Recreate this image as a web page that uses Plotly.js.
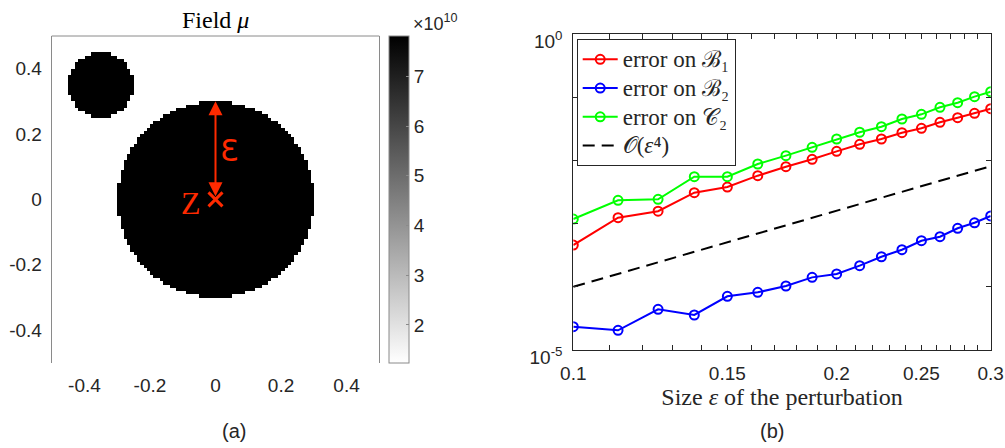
<!DOCTYPE html>
<html>
<head>
<meta charset="utf-8">
<script src="https://cdn.plot.ly/plotly-3.0.1.min.js"></script>
<style>
  html, body { margin: 0; padding: 0; background: #ffffff; }
  #chart { width: 1005px; height: 448px; }
</style>
</head>
<body>
<div id="chart"></div>
<script>
// ---------- Panel (a): field mu ----------
const inclusionX = [0, -0.35];
const inclusionY = [0, 0.35];
const inclusionR = [0.3, 0.1];
const muInside = 7.82e10;
const muBackground = 1.24e10;
const gridN = 100;              // image resolution (pixels per side)
const domainMin = -0.5, domainMax = 0.5;
const fieldTicks = [-0.4, -0.2, 0, 0.2, 0.4];
const fieldTickText = ['-0.4', '-0.2', '0', '0.2', '0.4'];
const colorbarTicks = [2e10, 3e10, 4e10, 5e10, 6e10, 7e10];
const colorbarTickText = ['2', '3', '4', '5', '6', '7'];
const perturbCenter = [0, 0];   // point z
const perturbSize = 0.3;        // epsilon

// ---------- Panel (b): errors ----------
const epsValues = [0.1, 0.1125, 0.125, 0.1375, 0.15, 0.1625, 0.175, 0.1875, 0.2,
                   0.2125, 0.225, 0.2375, 0.25, 0.2625, 0.275, 0.2875, 0.3];
const errB1 = [4.58e-4, 1.24e-3, 1.57e-3, 3.08e-3, 3.79e-3, 5.73e-3, 7.94e-3, 1.04e-2, 1.39e-2,
               1.80e-2, 2.18e-2, 2.74e-2, 3.22e-2, 4.01e-2, 4.74e-2, 5.56e-2, 6.58e-2];
const errB2 = [2.34e-5, 2.05e-5, 4.41e-5, 3.58e-5, 7.08e-5, 8.18e-5, 1.03e-4, 1.41e-4, 1.60e-4,
               2.16e-4, 2.99e-4, 3.86e-4, 5.36e-4, 6.21e-4, 8.43e-4, 1.03e-3, 1.32e-3];
const errC2 = [1.18e-3, 2.34e-3, 2.42e-3, 5.52e-3, 5.52e-3, 8.77e-3, 1.19e-2, 1.61e-2, 2.18e-2,
               2.79e-2, 3.41e-2, 4.52e-2, 5.36e-2, 6.92e-2, 8.18e-2, 1.02e-1, 1.22e-1];
const refEps = [0.1, 0.3];
const refOrder4 = [1e-4, 8.1e-3];
const seriesNames = ['error on ℬ₁', 'error on ℬ₂', 'error on 𝒞₂', '𝒪(<i>ε</i>⁴)'];
const xTickVals = [0.1, 0.11, 0.12, 0.13, 0.14, 0.15, 0.16, 0.17, 0.18, 0.19, 0.2,
                   0.21, 0.22, 0.23, 0.24, 0.25, 0.26, 0.27, 0.28, 0.29, 0.3];
const xTickText = ['0.1', '', '', '', '', '0.15', '', '', '', '', '0.2',
                   '', '', '', '', '0.25', '', '', '', '', '0.3'];
const yTickVals = [1e-5, 1e-4, 1e-3, 1e-2, 1e-1, 1];
const yTickText = ['10<sup>-5</sup>', '', '', '', '', '10<sup>0</sup>'];

// ---------- build image table ----------
const step = (domainMax - domainMin) / gridN;
const gx = [], gy = [];
for (let i = 0; i < gridN; i++) { gx.push(domainMin + (i + 0.5) * step); gy.push(domainMin + (i + 0.5) * step); }
const zField = gy.map(y => gx.map(x => {
  for (let k = 0; k < inclusionX.length; k++) {
    const dx = x - inclusionX[k], dy = y - inclusionY[k];
    if (dx * dx + dy * dy <= inclusionR[k] * inclusionR[k]) return muInside;
  }
  return muBackground;
}));

const W = 1005, H = 448;
const px = v => v / W;
const py = v => 1 - v / H;
const SANS = 'Liberation Sans, Arial, sans-serif';
const SERIF = 'Liberation Serif, Times New Roman, serif';
const TXT = '#262626';
const RED = '#ff2a00';
const big = s => '<span style="font-size:23px">' + s + '</span>';

const traces = [
  {
    type: 'heatmap', x: gx, y: gy, z: zField, xaxis: 'x', yaxis: 'y',
    zmin: muBackground, zmax: muInside,
    colorscale: [[0, '#ffffff'], [1, '#000000']],
    hoverinfo: 'skip', showlegend: false,
    colorbar: {
      x: px(389.3), xanchor: 'left', xpad: 0, ypad: 0,
      y: py(362.7), yanchor: 'bottom', len: (362.7 - 36) / H, lenmode: 'fraction',
      thickness: 20, thicknessmode: 'pixels',
      outlinewidth: 1, outlinecolor: '#8a8a8a', borderwidth: 0,
      tickvals: colorbarTicks, ticktext: colorbarTickText,
      ticks: 'inside', ticklen: 3, tickcolor: '#8a8a8a',
      tickfont: { family: SANS, size: 19, color: TXT }
    }
  },
  {
    type: 'scatter', mode: 'markers', x: [perturbCenter[0]], y: [perturbCenter[1]],
    xaxis: 'x', yaxis: 'y', showlegend: false, hoverinfo: 'skip',
    marker: { symbol: 'x-thin-open', size: 14, color: RED, line: { color: RED, width: 3 } }
  },
  {
    type: 'scatter', mode: 'lines+markers', x: epsValues, y: errB1, xaxis: 'x2', yaxis: 'y2',
    name: big(seriesNames[0]),
    line: { color: '#ff0000', width: 2 },
    marker: { symbol: 'circle-open', size: 9, color: '#ff0000', line: { width: 2 } }
  },
  {
    type: 'scatter', mode: 'lines+markers', x: epsValues, y: errB2, xaxis: 'x2', yaxis: 'y2',
    name: big(seriesNames[1]),
    line: { color: '#0000ff', width: 2 },
    marker: { symbol: 'circle-open', size: 9, color: '#0000ff', line: { width: 2 } }
  },
  {
    type: 'scatter', mode: 'lines+markers', x: epsValues, y: errC2, xaxis: 'x2', yaxis: 'y2',
    name: big(seriesNames[2]),
    line: { color: '#00ff00', width: 2 },
    marker: { symbol: 'circle-open', size: 9, color: '#00ff00', line: { width: 2 } }
  },
  {
    type: 'scatter', mode: 'lines', x: refEps, y: refOrder4, xaxis: 'x2', yaxis: 'y2',
    name: big(seriesNames[3]),
    line: { color: '#000000', width: 2, dash: '12px,7px' }
  }
];

const layout = {
  width: W, height: H,
  margin: { l: 0, r: 0, t: 0, b: 0 },
  paper_bgcolor: '#ffffff', plot_bgcolor: '#ffffff',
  showlegend: true,
  xaxis: {
    domain: [px(51.7), px(379.3)], anchor: 'y',
    range: [domainMin, domainMax], showgrid: false, zeroline: false,
    showline: false, ticks: '', tickvals: fieldTicks, ticktext: fieldTickText,
    tickfont: { family: SANS, size: 19, color: TXT }, ticklabelstandoff: 9
  },
  yaxis: {
    domain: [py(362.7), py(36)], anchor: 'x',
    range: [domainMin, domainMax], showgrid: false, zeroline: false,
    showline: true, mirror: true, linecolor: '#8a8a8a', linewidth: 1,
    ticks: '', tickvals: fieldTicks, ticktext: fieldTickText,
    tickfont: { family: SANS, size: 19, color: TXT }, ticklabelstandoff: 5
  },
  xaxis2: {
    domain: [px(573.3), px(990.7)], anchor: 'y2', type: 'log',
    range: [Math.log10(0.1), Math.log10(0.3)],
    showgrid: false, zeroline: false,
    showline: true, mirror: 'ticks', linecolor: TXT, linewidth: 1,
    ticks: 'inside', ticklen: 5, tickcolor: TXT,
    tickvals: xTickVals, ticktext: xTickText,
    tickfont: { family: SANS, size: 19, color: TXT }, ticklabelstandoff: 6,
    title: { text: 'Size <i>ε</i> of the perturbation', font: { family: SERIF, size: 24, color: TXT }, standoff: 0 }
  },
  yaxis2: {
    domain: [py(350), py(34)], anchor: 'x2', type: 'log',
    range: [-5, 0],
    showgrid: false, zeroline: false,
    showline: true, mirror: 'ticks', linecolor: TXT, linewidth: 1,
    ticks: 'inside', ticklen: 5, tickcolor: TXT,
    tickvals: yTickVals, ticktext: yTickText,
    tickfont: { family: SANS, size: 19, color: TXT }, ticklabelstandoff: 6, ticklabelshift: 7
  },
  legend: {
    x: px(576.7), xanchor: 'left', y: py(39), yanchor: 'top',
    bgcolor: '#ffffff', bordercolor: TXT, borderwidth: 1,
    font: { family: SERIF, size: 19.8, color: TXT },
    itemwidth: 35, tracegroupgap: 0
  },
  shapes: [
    { type: 'line', xref: 'x domain', yref: 'y domain', x0: 0, x1: 1, y0: 1, y1: 1,
      line: { color: '#8a8a8a', width: 1 } }
  ],
  annotations: [
    { xref: 'paper', yref: 'paper', x: px(215.5), y: py(20), text: 'Field <i>μ</i>',
      showarrow: false, xanchor: 'center', yanchor: 'middle',
      font: { family: SERIF, size: 24, color: '#000000' } },
    { xref: 'paper', yref: 'paper', x: px(411), y: py(22), text: '×10<sup>10</sup>',
      showarrow: false, xanchor: 'left', yanchor: 'middle',
      font: { family: SANS, size: 18, color: TXT } },
    { xref: 'x', yref: 'y', axref: 'x', ayref: 'y',
      x: perturbCenter[0], y: perturbCenter[1] + perturbSize,
      ax: perturbCenter[0], ay: perturbCenter[1] + 0.005,
      text: '', showarrow: true, arrowside: 'end+start',
      arrowhead: 2, startarrowhead: 2, arrowsize: 1.4, startarrowsize: 1.4,
      arrowwidth: 2, arrowcolor: RED },
    { xref: 'x', yref: 'y', x: perturbCenter[0], y: perturbCenter[1] + perturbSize / 2,
      xshift: 13, text: 'Ɛ', showarrow: false, xanchor: 'center', yanchor: 'middle',
      font: { family: 'DejaVu Sans, sans-serif', size: 30, color: RED } },
    { xref: 'x', yref: 'y', x: perturbCenter[0], y: perturbCenter[1],
      xshift: -25, yshift: -4, text: 'Z', showarrow: false, xanchor: 'center', yanchor: 'middle',
      font: { family: SERIF, size: 32, color: RED } },
    { xref: 'paper', yref: 'paper', x: px(234), y: py(431), text: '(a)',
      showarrow: false, xanchor: 'center', yanchor: 'middle',
      font: { family: SANS, size: 20, color: TXT } },
    { xref: 'paper', yref: 'paper', x: px(772), y: py(431), text: '(b)',
      showarrow: false, xanchor: 'center', yanchor: 'middle',
      font: { family: SANS, size: 20, color: TXT } }
  ]
};

Plotly.newPlot('chart', traces, layout, { staticPlot: true, displayModeBar: false });
</script>
</body>
</html>
